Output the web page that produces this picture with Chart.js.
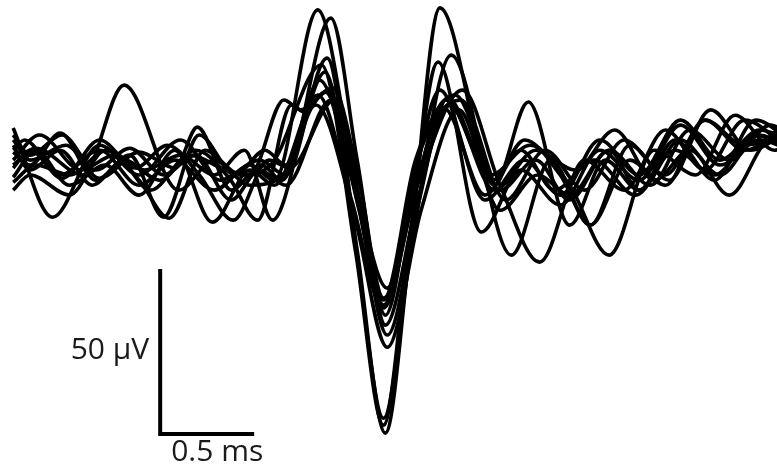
<!DOCTYPE html>
<html>
<head>
<meta charset="utf-8">
<script src="https://cdn.jsdelivr.net/npm/chart.js@4.4.0/dist/chart.umd.min.js"></script>
<style>
  html, body { margin: 0; padding: 0; background: #ffffff; }
  #wrap { position: relative; width: 777px; height: 476px; }
</style>
</head>
<body>
<div id="wrap"><canvas id="c"></canvas></div>
<script>
// Spike waveforms: [time (ms), amplitude (µV)]
const trace01 = [[0.07,3.0],[0.13,6.1],[0.32,-4.5],[0.53,3.0],[0.74,-7.6],[0.93,0],[1.14,-9.1],[1.33,-1.5],[1.46,-6.1],[1.69,45.5],[1.87,0],[2.04,-42.4],[2.21,0],[2.42,19.7],[2.66,-9.1],[2.85,0],[3.03,-12.1],[3.24,3.0],[3.46,-7.6],[3.67,9.1],[3.88,0],[4.10,10.6],[4.20,7.6]];
const trace02 = [[0.07,-1.5],[0.19,3.6],[0.44,-4.5],[0.66,22.7],[0.95,-9.1],[1.14,0],[1.33,-7.6],[1.53,-3.0],[1.76,43.0],[1.90,0],[2.05,-47.0],[2.22,0],[2.45,18.2],[2.69,-12.1],[2.90,3.0],[3.11,-9.1],[3.32,6.1],[3.54,-4.5],[3.75,12.1],[3.96,3.0],[4.20,12.1]];
const trace03 = [[0.07,9.7],[0.28,-17.3],[0.53,4.5],[0.74,-4.5],[0.96,6.1],[1.17,-6.1],[1.38,0],[1.52,-4.5],[1.74,30.9],[1.90,-27.3],[2.05,-82.7],[2.18,-27.3],[2.34,46.1],[2.63,-7.6],[2.81,17.6],[3.03,-19.7],[3.22,0],[3.40,-9.1],[3.62,6.1],[3.83,-4.5],[4.04,7.6],[4.20,3.0]];
const trace04 = [[0.07,-9.1],[0.16,-4.5],[0.37,-10.6],[0.56,3.0],[0.74,-6.1],[0.90,-17.6],[1.09,3.0],[1.28,-4.5],[1.44,-1.5],[1.71,28.8],[1.89,-27.3],[2.04,-80.3],[2.17,-27.3],[2.33,29.7],[2.56,-21.8],[2.77,-3.0],[2.98,-13.6],[3.19,3.0],[3.40,-6.1],[3.62,10.6],[3.83,-1.5],[4.04,6.1],[4.20,3.0]];
const trace05 = [[0.07,2.4],[0.16,-1.5],[0.32,8.2],[0.51,-6.1],[0.69,1.5],[0.87,-17.3],[1.06,7.6],[1.25,-4.5],[1.41,3.0],[1.52,-1.5],[1.73,26.7],[1.89,-25.8],[2.04,-78.2],[2.19,-25.8],[2.40,31.8],[2.72,-28.8],[2.93,0],[3.14,-19.7],[3.35,4.5],[3.56,-6.1],[3.78,15.2],[3.99,3.0],[4.20,9.1]];
const trace06 = [[0.07,6.1],[0.16,0],[0.35,4.5],[0.53,-5.5],[0.74,2.4],[0.93,-2.4],[1.05,10.0],[1.23,-9.1],[1.39,-1.5],[1.50,-6.1],[1.70,24.2],[1.89,-9.1],[2.06,-38.8],[2.19,-9.1],[2.34,21.2],[2.58,-12.1],[2.79,0],[2.98,-10.6],[3.19,6.1],[3.40,-4.5],[3.62,12.1],[3.83,0],[4.04,9.1],[4.20,6.1]];
const trace07 = [[0.07,0],[0.21,7.6],[0.43,-3.0],[0.61,1.5],[0.80,-9.1],[1.01,1.5],[1.20,-3.0],[1.33,-4.5],[1.51,18.2],[1.60,15.2],[1.77,21.8],[1.91,-6.1],[2.04,-41.8],[2.23,-6.1],[2.46,21.2],[2.66,-7.6],[2.87,-30.9],[3.11,0],[3.32,-9.1],[3.54,9.1],[3.75,-3.0],[3.96,12.1],[4.20,3.0]];
const trace08 = [[0.07,-5.2],[0.19,3.0],[0.37,-7.6],[0.56,-1.5],[0.74,-10.6],[0.93,3.0],[1.13,-18.8],[1.33,-3.0],[1.46,-7.6],[1.69,19.7],[1.87,-12.1],[2.04,-44.8],[2.21,-9.1],[2.37,18.2],[2.61,-4.5],[2.82,4.5],[3.03,-7.6],[3.24,-28.8],[3.48,3.0],[3.70,-4.5],[3.91,13.6],[4.12,3.0],[4.20,4.5]];
const trace09 = [[0.07,-2.4],[0.16,3.0],[0.33,-5.5],[0.53,6.1],[0.72,-2.4],[0.89,4.5],[1.06,-4.5],[1.24,-18.2],[1.43,0],[1.54,-2.4],[1.78,18.2],[1.93,-16.7],[2.05,-50.0],[2.22,-12.1],[2.39,16.7],[2.63,-9.1],[2.85,3.0],[3.06,-3.0],[3.27,9.1],[3.48,-6.1],[3.67,3.0],[3.88,-10.6],[4.10,6.1],[4.20,4.5]];
const trace10 = [[0.07,4.5],[0.16,-3.0],[0.32,3.0],[0.49,-7.6],[0.66,0],[0.85,-6.1],[1.04,3.0],[1.22,-5.5],[1.37,-18.2],[1.55,16.7],[1.62,14.5],[1.73,20.6],[1.91,-15.2],[2.06,-53.0],[2.23,-12.1],[2.38,18.8],[2.62,-6.1],[2.79,6.1],[2.98,-4.5],[3.14,-19.7],[3.35,0],[3.54,-7.6],[3.75,12.1],[3.96,4.5],[4.20,9.1]];
const trace11 = [[0.07,-6.7],[0.19,-1.5],[0.37,-4.5],[0.57,3.0],[0.77,-3.0],[0.96,1.5],[1.14,-4.5],[1.30,3.0],[1.45,-18.2],[1.68,16.7],[1.89,-18.2],[2.06,-56.7],[2.24,-15.2],[2.44,15.2],[2.66,-15.2],[2.86,-4.5],[3.03,-10.6],[3.24,3.0],[3.40,-9.1],[3.59,6.1],[3.80,-6.1],[4.02,12.1],[4.20,6.1]];
const trace12 = [[0.07,7.6],[0.16,1.5],[0.33,7.6],[0.51,-3.0],[0.69,3.6],[0.87,-4.5],[1.04,1.5],[1.23,-12.1],[1.38,-3.0],[1.52,-7.6],[1.76,18.2],[1.90,-12.1],[2.04,-43.9],[2.20,-10.6],[2.36,15.8],[2.58,-10.6],[2.77,3.0],[2.95,-9.1],[3.16,0],[3.38,-10.6],[3.59,3.0],[3.80,-4.5],[4.02,7.6],[4.20,3.0]];

const traces = [trace01, trace02, trace03, trace04, trace05, trace06, trace07, trace08, trace09, trace10, trace11, trace12];

// Scale bars (time in ms, amplitude in µV)
const scaleBarTime = 0.5;      // ms
const scaleBarAmp = 50;        // µV
const scaleBarOrigin = [0.852, -83.0];
const scaleLabelAmp = "50 µV";
const scaleLabelTime = "0.5 ms";

const datasets = traces.map(tr => ({
  data: tr.map(p => ({ x: p[0], y: p[1] })),
  borderColor: '#000000',
  borderWidth: 3.6,
  pointRadius: 0,
  fill: false,
  cubicInterpolationMode: 'monotone',
  clip: false
}));

datasets.push({
  data: [
    { x: scaleBarOrigin[0], y: scaleBarOrigin[1] + scaleBarAmp },
    { x: scaleBarOrigin[0], y: scaleBarOrigin[1] },
    { x: scaleBarOrigin[0] + scaleBarTime, y: scaleBarOrigin[1] }
  ],
  borderColor: '#000000',
  borderWidth: 4,
  pointRadius: 0,
  tension: 0,
  borderCapStyle: 'butt',
  borderJoinStyle: 'miter',
  fill: false
});

const labelPlugin = {
  id: 'scaleLabels',
  afterDatasetsDraw(chart) {
    const ctx = chart.ctx;
    const xs = chart.scales.x, ys = chart.scales.y;
    const x0 = xs.getPixelForValue(scaleBarOrigin[0]);
    const yBottom = ys.getPixelForValue(scaleBarOrigin[1]);
    const yTop = ys.getPixelForValue(scaleBarOrigin[1] + scaleBarAmp);
    const x1 = xs.getPixelForValue(scaleBarOrigin[0] + scaleBarTime);
    ctx.save();
    ctx.fillStyle = '#1a1a1a';
    ctx.font = '30px "Open Sans", sans-serif';
    ctx.textAlign = 'right';
    ctx.textBaseline = 'middle';
    ctx.fillText(scaleLabelAmp, x0 - 11, (yTop + yBottom) / 2 - 1);
    ctx.textAlign = 'left';
    ctx.textBaseline = 'top';
    ctx.fillText(scaleLabelTime, x0 + 11, yBottom + 3);
    ctx.restore();
  }
};

new Chart(document.getElementById('c'), {
  type: 'line',
  data: { datasets },
  options: {
    responsive: true,
    maintainAspectRatio: false,
    animation: false,
    events: [],
    layout: { padding: 0 },
    plugins: { legend: { display: false }, tooltip: { enabled: false } },
    scales: {
      x: { type: 'linear', min: 0, max: 4.133, display: false },
      y: { type: 'linear', min: -95.7, max: 48.5, display: false }
    }
  },
  plugins: [labelPlugin]
});
</script>
</body>
</html>
